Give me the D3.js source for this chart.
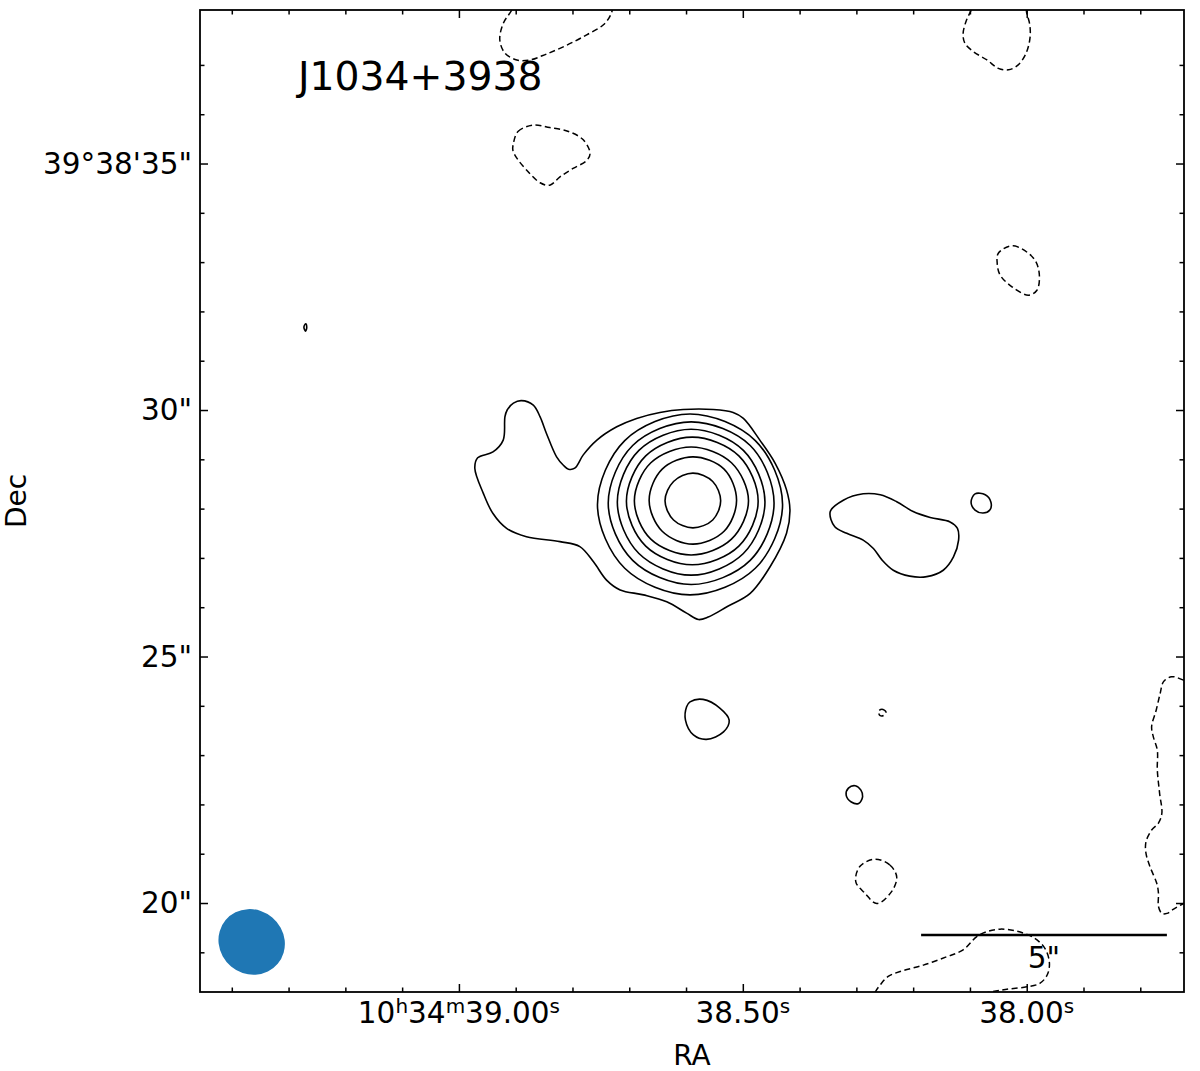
<!DOCTYPE html>
<html>
<head>
<meta charset="utf-8">
<script src="https://cdn.jsdelivr.net/npm/d3@7"></script>
<style>
body { margin: 0; background: #fff; }
svg { display: block; font-family: "DejaVu Sans", sans-serif; }
</style>
</head>
<body>
<div id="chart"></div>
<script>
var width = 1200, height = 1071
var margin = {left: 200, right: 16, top: 10, bottom: 79}
var w = width - margin.left - margin.right,
    h = height - margin.top - margin.bottom

// field of view: RA in seconds of 10h34m, Dec in arcsec of +39d38m
var raRange = [39.456, 37.723]
var decRange = [18.195, 38.114]
var decDeg = 39.643

// ticks
var raMajorTicks = [39.0, 38.5, 38.0]
var raTickLabels = ["10^h34^m39.00^s", "38.50^s", "38.00^s"]
var raMinorTicks = [39.4, 39.3, 39.2, 39.1, 38.9, 38.8, 38.7, 38.6, 38.4, 38.3, 38.2, 38.1, 37.9, 37.8]
var decMajorTicks = [20, 25, 30, 35]
var decTickLabels = ['20"', '25"', '30"', '39°38\'35"']
var decMinorTicks = [19, 21, 22, 23, 24, 26, 27, 28, 29, 31, 32, 33, 34, 36, 37]

var sourceName = "J1034+3938"

// positive contours [RA s, Dec "]
var outerContour = [[38.890,30.19],[38.904,30.14],[38.915,30.00],[38.919,29.86],[38.922,29.39],[38.940,29.15],[38.967,29.03],[38.972,28.82],[38.957,28.31],[38.940,27.90],[38.916,27.60],[38.881,27.43],[38.822,27.33],[38.787,27.23],[38.763,26.92],[38.740,26.55],[38.716,26.35],[38.675,26.25],[38.634,26.11],[38.599,25.88],[38.578,25.75],[38.561,25.80],[38.528,26.01],[38.487,26.28],[38.452,26.82],[38.423,27.50],[38.417,27.97],[38.423,28.38],[38.443,28.92],[38.470,29.39],[38.499,29.83],[38.517,29.95],[38.552,30.01],[38.605,30.01],[38.646,29.95],[38.687,29.83],[38.722,29.66],[38.757,29.39],[38.781,29.09],[38.796,28.82],[38.807,28.80],[38.816,28.88],[38.828,29.05],[38.846,29.53],[38.857,29.86],[38.869,30.10]]
var ring7 = [[38.593,29.92],[38.478,29.38],[38.430,28.08],[38.478,26.79],[38.593,26.25],[38.708,26.79],[38.756,28.08],[38.708,29.38]]
var ring6 = [[38.591,29.76],[38.487,29.28],[38.445,28.11],[38.487,26.95],[38.591,26.46],[38.694,26.95],[38.737,28.11],[38.694,29.28]]
var ring5 = [[38.591,29.61],[38.499,29.18],[38.461,28.13],[38.499,27.09],[38.591,26.65],[38.683,27.09],[38.721,28.13],[38.683,29.18]]
var ring4 = [[38.589,29.45],[38.507,29.07],[38.473,28.15],[38.507,27.24],[38.589,26.86],[38.671,27.24],[38.705,28.15],[38.671,29.07]]
var ring3 = [[38.591,29.25],[38.520,28.93],[38.490,28.16],[38.520,27.38],[38.591,27.06],[38.662,27.38],[38.691,28.16],[38.662,28.93]]
var ring2 = [[38.588,29.05],[38.533,28.80],[38.511,28.17],[38.533,27.54],[38.588,27.28],[38.642,27.54],[38.665,28.17],[38.642,28.80]]
var ring1 = [[38.588,28.72],[38.553,28.55],[38.539,28.16],[38.553,27.77],[38.588,27.61],[38.622,27.77],[38.637,28.16],[38.622,28.55]]
var eastBlob = [[38.346,27.94],[38.323,28.17],[38.288,28.30],[38.258,28.28],[38.229,28.14],[38.200,27.94],[38.170,27.82],[38.135,27.73],[38.122,27.60],[38.120,27.36],[38.129,27.02],[38.147,26.75],[38.176,26.62],[38.206,26.63],[38.235,26.75],[38.255,26.96],[38.270,27.19],[38.288,27.36],[38.317,27.50],[38.338,27.63]]
var eastKnot = [[38.091,28.30],[38.073,28.28],[38.063,28.13],[38.065,27.97],[38.077,27.91],[38.091,27.97],[38.098,28.13]]
var southBlob = [[38.593,24.08],[38.570,24.13],[38.540,23.95],[38.524,23.71],[38.534,23.47],[38.564,23.32],[38.587,23.41],[38.601,23.71],[38.599,23.98]]
var southKnot = [[38.314,22.33],[38.302,22.38],[38.292,22.29],[38.289,22.16],[38.296,22.02],[38.309,22.05],[38.318,22.19]]
var westSpeck = [[39.270,31.75],[39.268,31.68],[39.270,31.60],[39.273,31.68]]

// negative contours
var negTop = [[38.893,38.42],[38.907,38.11],[38.922,37.84],[38.928,37.51],[38.919,37.24],[38.898,37.10],[38.875,37.10],[38.846,37.22],[38.810,37.40],[38.775,37.61],[38.746,37.81],[38.733,38.01],[38.730,38.21],[38.752,38.42],[38.822,38.52]]
var negUpperLeft = [[38.904,35.41],[38.896,35.65],[38.869,35.78],[38.840,35.73],[38.807,35.65],[38.781,35.48],[38.769,35.21],[38.775,35.06],[38.799,34.90],[38.822,34.73],[38.840,34.56],[38.857,34.61],[38.881,34.87],[38.898,35.11],[38.905,35.27]]
var negTopRight = [[38.091,38.42],[38.098,38.11],[38.106,37.91],[38.112,37.64],[38.109,37.44],[38.094,37.27],[38.070,37.10],[38.050,36.93],[38.032,36.90],[38.015,37.00],[38.001,37.24],[37.994,37.57],[37.995,37.84],[38.000,38.05],[38.003,38.21],[38.047,38.52]]
var negUpperRight = [[38.050,33.18],[38.024,33.33],[37.988,33.08],[37.978,32.77],[37.982,32.43],[37.997,32.33],[38.026,32.50],[38.047,32.74],[38.052,32.98]]
var negRightEdge = [[37.695,24.32],[37.724,24.52],[37.745,24.59],[37.759,24.49],[37.765,24.25],[37.772,23.91],[37.780,23.58],[37.777,23.37],[37.770,23.10],[37.770,22.70],[37.766,22.23],[37.762,21.82],[37.768,21.62],[37.780,21.48],[37.790,21.24],[37.790,21.01],[37.783,20.74],[37.771,20.40],[37.768,20.20],[37.768,19.93],[37.762,19.79],[37.753,19.79],[37.742,19.87],[37.724,19.99],[37.695,20.16]]
var negLowerRight = [[38.267,20.89],[38.241,20.77],[38.229,20.53],[38.238,20.23],[38.264,19.99],[38.285,20.20],[38.301,20.43],[38.294,20.74]]
var negBottom = [[38.276,17.93],[38.267,18.19],[38.258,18.34],[38.244,18.51],[38.223,18.61],[38.182,18.74],[38.141,18.91],[38.112,19.05],[38.088,19.32],[38.070,19.42],[38.047,19.47],[38.018,19.43],[37.988,19.30],[37.968,19.08],[37.960,18.78],[37.964,18.54],[37.977,18.37],[38.000,18.30],[38.035,18.25],[38.070,18.18],[38.117,18.03],[38.188,17.83]]
var negSpeck = [[38.261,23.89],[38.255,23.93],[38.248,23.88],[38.251,23.81],[38.258,23.80]]

var positiveContours = [outerContour, ring7, ring6, ring5, ring4, ring3, ring2, ring1, eastBlob, eastKnot, southBlob, southKnot, westSpeck]
var negativeContours = [negTop, negUpperLeft, negTopRight, negUpperRight, negRightEdge, negLowerRight, negBottom, negSpeck]

// restoring beam (arcsec, deg) and scale bar
var beamCenter = [39.365, 19.21]
var beamAxes = [1.38, 1.30]
var beamAngle = 40
var scaleBarStart = [38.186, 19.35]
var scaleBarLength = 5
var scaleBarLabel = '5"'

var x = d3.scaleLinear().domain(raRange).range([0, w])
var y = d3.scaleLinear().domain(decRange).range([h, 0])
var pxPerArcsec = Math.abs(y(1) - y(0))
var secPerArcsec = 1 / (15 * Math.cos(decDeg * Math.PI / 180))

var svg = d3.select("#chart").append("svg")
    .attr("width", width)
    .attr("height", height)

var g = svg.append("g")
    .attr("transform", "translate(" + margin.left + "," + margin.top + ")")

g.append("clipPath").attr("id", "clip")
    .append("rect").attr("width", w).attr("height", h)

var plotG = g.append("g").attr("clip-path", "url(#clip)")

var contourLine = d3.line()
    .x(function(d) { return x(d[0]) })
    .y(function(d) { return y(d[1]) })
    .curve(d3.curveCatmullRomClosed.alpha(0.5))

plotG.selectAll(".pos")
    .data(positiveContours)
    .enter().append("path")
    .attr("class", "pos")
    .attr("d", contourLine)
    .attr("fill", "none")
    .attr("stroke", "#000")
    .attr("stroke-width", 1.6)

plotG.selectAll(".neg")
    .data(negativeContours)
    .enter().append("path")
    .attr("class", "neg")
    .attr("d", contourLine)
    .attr("fill", "none")
    .attr("stroke", "#000")
    .attr("stroke-width", 1.5)
    .attr("stroke-dasharray", "6,3.5")

// beam
var bx = x(beamCenter[0]), by = y(beamCenter[1])
plotG.append("ellipse")
    .attr("cx", bx)
    .attr("cy", by)
    .attr("rx", beamAxes[0] / 2 * pxPerArcsec)
    .attr("ry", beamAxes[1] / 2 * pxPerArcsec)
    .attr("transform", "rotate(" + beamAngle + "," + bx + "," + by + ")")
    .attr("fill", "#1f77b4")

// scale bar
var sbx0 = x(scaleBarStart[0]),
    sbx1 = x(scaleBarStart[0] - scaleBarLength * secPerArcsec),
    sby = y(scaleBarStart[1])
plotG.append("line")
    .attr("x1", sbx0).attr("x2", sbx1)
    .attr("y1", sby).attr("y2", sby)
    .attr("stroke", "#000")
    .attr("stroke-width", 2.6)
plotG.append("text")
    .attr("x", (sbx0 + sbx1) / 2)
    .attr("y", sby + 33)
    .attr("text-anchor", "middle")
    .attr("font-size", "29.5px")
    .text(scaleBarLabel)

// ticks, inward on all four sides
function drawTicks(axis, values, size, transform) {
    var a = g.append("g").attr("transform", transform)
        .call(axis.tickValues(values).tickSize(-size).tickFormat(""))
    a.select(".domain").remove()
    a.selectAll("line").attr("stroke", "#000").attr("stroke-width", 1.5)
}
drawTicks(d3.axisBottom(x), raMajorTicks, 8, "translate(0," + h + ")")
drawTicks(d3.axisBottom(x), raMinorTicks, 4.5, "translate(0," + h + ")")
drawTicks(d3.axisTop(x), raMajorTicks, 8, "translate(0,0)")
drawTicks(d3.axisTop(x), raMinorTicks, 4.5, "translate(0,0)")
drawTicks(d3.axisLeft(y), decMajorTicks, 8, "translate(0,0)")
drawTicks(d3.axisLeft(y), decMinorTicks, 4.5, "translate(0,0)")
drawTicks(d3.axisRight(y), decMajorTicks, 8, "translate(" + w + ",0)")
drawTicks(d3.axisRight(y), decMinorTicks, 4.5, "translate(" + w + ",0)")

// frame
g.append("rect")
    .attr("width", w).attr("height", h)
    .attr("fill", "none")
    .attr("stroke", "#000")
    .attr("stroke-width", 1.8)

// RA tick labels with superscript units
raMajorTicks.forEach(function(v, i) {
    var t = g.append("text")
        .attr("x", x(v))
        .attr("y", h + 31)
        .attr("text-anchor", "middle")
        .attr("font-size", "29.5px")
    var parts = raTickLabels[i].split("^")
    t.append("tspan").text(parts[0])
    for (var k = 1; k < parts.length; k++) {
        t.append("tspan").attr("font-size", "20px").attr("dy", -10).text(parts[k][0])
        if (parts[k].length > 1) {
            t.append("tspan").attr("dy", 10).text(parts[k].slice(1))
        }
    }
})

g.selectAll(".declabel")
    .data(decMajorTicks)
    .enter().append("text")
    .attr("class", "declabel")
    .attr("x", -8)
    .attr("y", function(d) { return y(d) + 10 })
    .attr("text-anchor", "end")
    .attr("font-size", "29.5px")
    .text(function(d, i) { return decTickLabels[i] })

// axis titles
g.append("text")
    .attr("x", w / 2)
    .attr("y", h + 73)
    .attr("text-anchor", "middle")
    .attr("font-size", "28px")
    .text("RA")

g.append("text")
    .attr("transform", "translate(" + (26 - margin.left) + "," + (h / 2) + ") rotate(-90)")
    .attr("text-anchor", "middle")
    .attr("font-size", "28px")
    .text("Dec")

// source name
g.append("text")
    .attr("x", 98)
    .attr("y", 80)
    .attr("font-size", "39.3px")
    .text(sourceName)
</script>
</body>
</html>
